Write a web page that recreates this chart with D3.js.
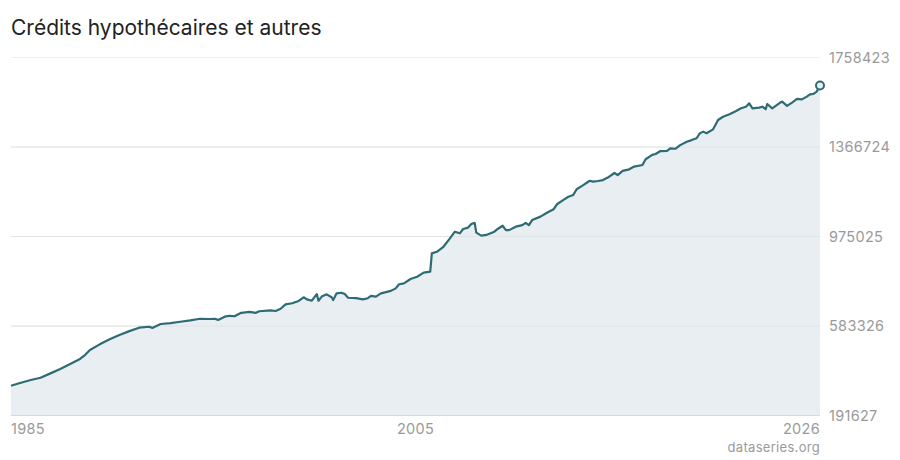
<!DOCTYPE html>
<html>
<head>
<meta charset="utf-8">
<script src="https://cdn.jsdelivr.net/npm/d3@7"></script>
<style>
  html, body { margin: 0; padding: 0; background: #fff; }
  svg { display: block; font-family: Inter, "Noto Sans", sans-serif; }
</style>
</head>
<body>
<svg id="chart" width="900" height="460"></svg>
<script>
const title = "Crédits hypothécaires et autres";
const source = "dataseries.org";
const yTicks = [191627, 583326, 975025, 1366724, 1758423];
const xLabels = ["1985", "2005", "2026"];

const dates = [
  "1985-01","1985-06","1986-01","1986-07","1987-01","1987-07","1988-01","1988-07","1988-10","1989-01",
  "1989-07","1990-01","1990-07","1991-01","1991-07","1992-01","1992-03","1992-08","1993-02","1993-08",
  "1994-02","1994-08","1995-02","1995-05","1995-07","1995-11","1996-02","1996-05","1996-09","1997-02",
  "1997-06","1997-08","1998-03","1998-06","1998-09","1998-12","1999-04","1999-08","1999-11","2000-01",
  "2000-04","2000-07","2000-08","2000-10","2001-01","2001-04","2001-05","2001-07","2001-10","2001-12",
  "2002-02","2002-07","2002-11","2003-02","2003-04","2003-07","2003-10","2004-04","2004-07","2004-09",
  "2004-12","2005-04","2005-08","2005-12","2006-04","2006-05","2006-08","2006-12","2007-04","2007-07",
  "2007-10","2007-12","2008-03","2008-05","2008-07","2008-08","2008-11","2009-02","2009-07","2009-09",
  "2009-12","2010-02","2010-04","2010-08","2010-12","2011-02","2011-04","2011-06","2011-11","2012-03",
  "2012-07","2012-09","2013-01","2013-04","2013-07","2013-09","2014-01","2014-05","2014-07","2014-10",
  "2015-01","2015-04","2015-08","2015-10","2016-01","2016-05","2016-08","2017-01","2017-03","2017-07",
  "2017-09","2017-12","2018-04","2018-06","2018-09","2018-12","2019-04","2019-07","2019-10","2019-12",
  "2020-02","2020-04","2020-08","2020-11","2021-02","2021-06","2021-10","2022-01","2022-04","2022-06",
  "2022-08","2022-12","2023-02","2023-04","2023-05","2023-08","2024-01","2024-02","2024-05","2024-08",
  "2024-11","2025-02","2025-05","2025-07","2025-09","2025-11","2026-01"
];
const values = [
  322000,332500,347000,357000,376000,395000,417000,439000,456000,478000,
  503000,525000,544000,561000,576000,580000,575000,592000,596000,602000,
  608000,615000,614000,615000,610000,624000,628000,626000,641000,645000,
  641000,648000,652000,649000,659000,678000,683000,693000,709000,700000,
  694000,723000,694000,712000,722000,709000,697000,726000,729000,723000,
  707000,705000,700000,705000,715000,712000,726000,737000,748000,766000,
  770000,789000,799000,817000,821000,901000,908000,930000,967000,996000,
  989000,1008000,1014000,1030000,1035000,992000,979000,982000,996000,1008000,
  1022000,1003000,1003000,1018000,1025000,1035000,1025000,1047000,1062000,1079000,
  1094000,1116000,1135000,1149000,1157000,1182000,1200000,1219000,1215000,1218000,
  1222000,1233000,1253000,1244000,1262000,1269000,1281000,1288000,1313000,1332000,
  1336000,1349000,1350000,1361000,1359000,1375000,1390000,1397000,1405000,1427000,
  1434000,1427000,1444000,1485000,1499000,1510000,1524000,1536000,1543000,1558000,
  1536000,1539000,1543000,1532000,1555000,1536000,1562000,1565000,1547000,1561000,
  1577000,1575000,1587000,1597000,1599000,1609000,1636000
];

const parse = d3.timeParse("%Y-%m");
const data = dates.map((d, i) => ({ date: parse(d), value: values[i] }));

const svg = d3.select("#chart");
const mLeft = 11, mRight = 820, mTop = 57.5, mBottom = 415.5;

const x = d3.scaleTime()
  .domain(d3.extent(data, d => d.date))
  .range([mLeft, mRight]);
const y = d3.scaleLinear()
  .domain([yTicks[0], yTicks[yTicks.length - 1]])
  .range([mBottom, mTop]);

// title
svg.append("text")
  .attr("x", 11).attr("y", 35)
  .attr("font-size", 21)
  .attr("fill", "#222")
  .text(title);

// gridlines
svg.append("g").selectAll("line")
  .data(yTicks.slice(1))
  .join("line")
  .attr("x1", mLeft).attr("x2", mRight)
  .attr("y1", d => y(d)).attr("y2", d => y(d))
  .attr("stroke", "#f0f0f0").attr("stroke-width", 1);

// area
svg.append("path")
  .datum(data)
  .attr("fill", "#e8eef1")
  .attr("d", d3.area().x(d => x(d.date)).y0(mBottom).y1(d => y(d.value)));

// gridlines over area (subtle)
svg.append("g").selectAll("line")
  .data(yTicks.slice(1, -1))
  .join("line")
  .attr("x1", mLeft).attr("x2", mRight)
  .attr("y1", d => y(d)).attr("y2", d => y(d))
  .attr("stroke", "#dfe4e7").attr("stroke-width", 1);

// baseline
svg.append("line")
  .attr("x1", mLeft).attr("x2", mRight)
  .attr("y1", mBottom).attr("y2", mBottom)
  .attr("stroke", "#d8d8d8").attr("stroke-width", 1);

// line
svg.append("path")
  .datum(data)
  .attr("fill", "none")
  .attr("stroke", "#2e6b75")
  .attr("stroke-width", 2.2)
  .attr("stroke-linejoin", "round")
  .attr("d", d3.line().x(d => x(d.date)).y(d => y(d.value)));

// end marker
const last = data[data.length - 1];
svg.append("circle")
  .attr("cx", x(last.date)).attr("cy", y(last.value))
  .attr("r", 4)
  .attr("fill", "#e8eef1")
  .attr("stroke", "#2e6b75").attr("stroke-width", 2);

// y axis labels
svg.append("g").selectAll("text")
  .data(yTicks)
  .join("text")
  .attr("x", 829)
  .attr("y", d => y(d))
  .attr("dy", "0.36em")
  .attr("font-size", 14.5)
  .attr("fill", "#9a9a9a")
  .attr("letter-spacing", "0.3")
  .text(d => d);

// x labels: first, middle, last
const xPos = [mLeft, (mLeft + mRight) / 2, mRight];
const anchors = ["start", "middle", "end"];
svg.append("g").selectAll("text")
  .data(xLabels)
  .join("text")
  .attr("x", (d, i) => xPos[i])
  .attr("y", 434)
  .attr("text-anchor", (d, i) => anchors[i])
  .attr("font-size", 14.5)
  .attr("fill", "#9a9a9a")
  .attr("letter-spacing", "0.3")
  .text(d => d);

// source
svg.append("text")
  .attr("x", mRight).attr("y", 452)
  .attr("text-anchor", "end")
  .attr("font-size", 13)
  .attr("fill", "#9a9a9a")
  .attr("letter-spacing", "0.3")
  .text(source);
</script>
</body>
</html>
